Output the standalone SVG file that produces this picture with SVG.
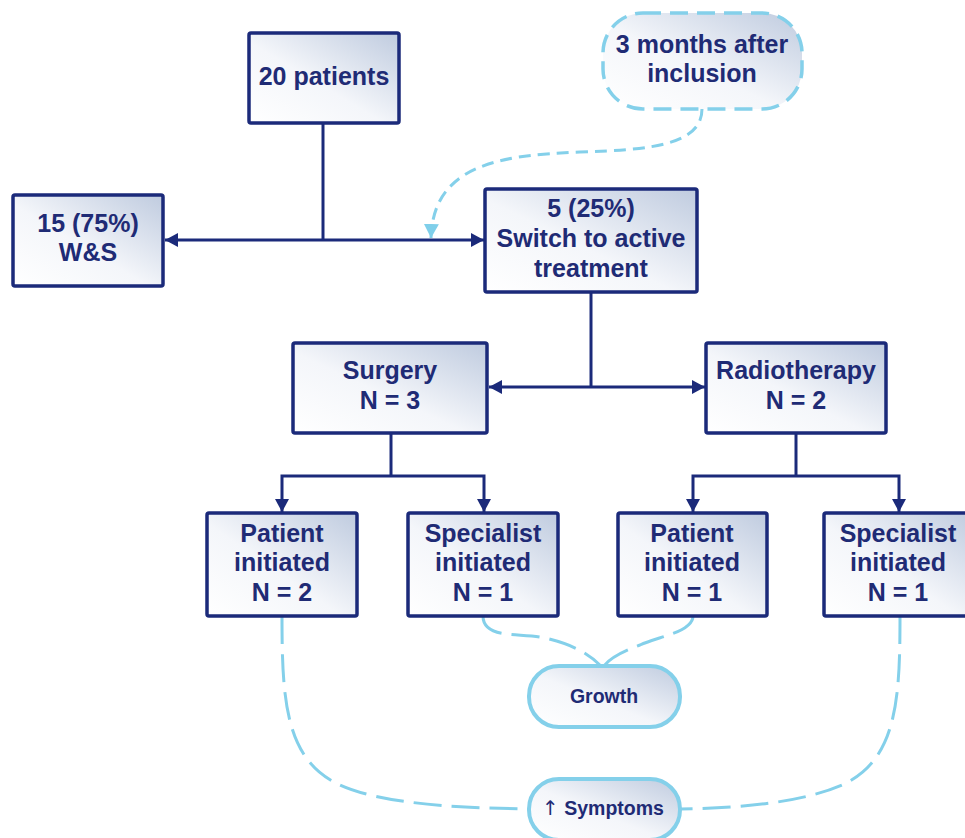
<svg xmlns="http://www.w3.org/2000/svg" width="965" height="838" viewBox="0 0 965 838">
<defs>
<linearGradient id="g" x1="0" y1="1" x2="1" y2="0">
<stop offset="0" stop-color="#ffffff"/>
<stop offset="0.45" stop-color="#f4f6fa"/>
<stop offset="1" stop-color="#bfcbdf"/>
</linearGradient>
<marker id="ah" markerUnits="userSpaceOnUse" markerWidth="14" markerHeight="14" refX="13" refY="7" orient="auto" viewBox="0 0 14 14">
<path d="M0,0 L13,7 L0,14 z" fill="#1b2a7a"/>
</marker>
<marker id="ahl" markerUnits="userSpaceOnUse" markerWidth="15" markerHeight="15" refX="14" refY="7.5" orient="auto" viewBox="0 0 15 15">
<path d="M0,0 L14,7.5 L0,15 z" fill="#7fcfea"/>
</marker>
</defs>
<style>
.box{fill:url(#g);stroke:#1b2a7a;stroke-width:3.5}
.pill{fill:url(#g);stroke:#84d0ea;stroke-width:4}
.cloud{fill:url(#g);stroke:#84d0ea;stroke-width:3.5;stroke-dasharray:18 9}
text{font-family:"Liberation Sans",Arial,sans-serif;font-weight:bold;fill:#1f2b75;text-anchor:middle}
.t{font-size:25px}
.s{font-size:19.5px}
.arr{font-family:"DejaVu Sans",sans-serif;font-weight:normal;font-size:20px}
.ln{fill:none;stroke:#1b2a7a;stroke-width:3}
.dl{fill:none;stroke:#84d0ea;stroke-width:3;stroke-dasharray:28 10}
.dc{fill:none;stroke:#84d0ea;stroke-width:3;stroke-dasharray:12 7}
</style>
<g id="connectors">
<path class="ln" d="M323,123 V240"/>
<path class="ln" d="M323,240 H165" marker-end="url(#ah)"/>
<path class="ln" d="M323,240 H484" marker-end="url(#ah)"/>
<path class="ln" d="M591,292 V387"/>
<path class="ln" d="M591,387 H489" marker-end="url(#ah)"/>
<path class="ln" d="M591,387 H705" marker-end="url(#ah)"/>
<path class="ln" d="M391,433 V476"/>
<path class="ln" d="M391,476 H282 V512" marker-end="url(#ah)"/>
<path class="ln" d="M391,476 H484 V512" marker-end="url(#ah)"/>
<path class="ln" d="M796,433 V476"/>
<path class="ln" d="M796,476 H693 V512" marker-end="url(#ah)"/>
<path class="ln" d="M796,476 H899 V512" marker-end="url(#ah)"/>
<path class="dc" d="M702,109 C702,145 650,150 580,152 C500,155 433,165 431,238" marker-end="url(#ahl)"/>
<path class="dl" d="M483,616 C483,640 520,632 545,638 C575,645 590,655 601,666"/>
<path class="dl" d="M693,616 C693,632 660,636 640,645 C620,652 608,660 604,666"/>
<path class="dl" d="M282,616 C282,700 285,760 340,785 C380,803 450,808 530,809"/>
<path class="dl" d="M900,616 C900,700 897,760 842,785 C800,803 740,808 680,809"/>
</g>
<g id="n20">
<rect class="box" x="249" y="33" width="150" height="90" rx="2"/>
<text class="t" x="324" y="85">20 patients</text>
</g>
<g id="nws">
<rect class="box" x="13" y="195" width="150" height="91" rx="2"/>
<text class="t" x="88" y="232">15 (75%)</text>
<text class="t" x="88" y="261">W&amp;S</text>
</g>
<g id="nswitch">
<rect class="box" x="485" y="189" width="212" height="103" rx="2"/>
<text class="t" x="591" y="217">5 (25%)</text>
<text class="t" x="591" y="247">Switch to active</text>
<text class="t" x="591" y="277">treatment</text>
</g>
<g id="nmonths">
<rect class="cloud" x="603" y="13" width="199" height="96" rx="40"/>
<text class="t" x="702" y="53">3 months after</text>
<text class="t" x="702" y="82">inclusion</text>
</g>
<g id="nsurgery">
<rect class="box" x="293" y="343" width="194" height="90" rx="2"/>
<text class="t" x="390" y="379">Surgery</text>
<text class="t" x="390" y="409">N = 3</text>
</g>
<g id="nradio">
<rect class="box" x="706" y="343" width="180" height="90" rx="2"/>
<text class="t" x="796" y="379">Radiotherapy</text>
<text class="t" x="796" y="409">N = 2</text>
</g>
<g id="np1">
<rect class="box" x="207" y="513" width="150" height="103" rx="2"/>
<text class="t" x="282" y="542">Patient</text>
<text class="t" x="282" y="571">initiated</text>
<text class="t" x="282" y="601">N = 2</text>
</g>
<g id="ns1">
<rect class="box" x="408" y="513" width="150" height="103" rx="2"/>
<text class="t" x="483" y="542">Specialist</text>
<text class="t" x="483" y="571">initiated</text>
<text class="t" x="483" y="601">N = 1</text>
</g>
<g id="np2">
<rect class="box" x="618" y="513" width="149" height="103" rx="2"/>
<text class="t" x="692" y="542">Patient</text>
<text class="t" x="692" y="571">initiated</text>
<text class="t" x="692" y="601">N = 1</text>
</g>
<g id="ns2">
<rect class="box" x="824" y="513" width="150" height="103" rx="2"/>
<text class="t" x="898" y="542">Specialist</text>
<text class="t" x="898" y="571">initiated</text>
<text class="t" x="898" y="601">N = 1</text>
</g>
<g id="ngrowth">
<rect class="pill" x="529" y="666" width="151" height="61" rx="30"/>
<text class="s" x="604" y="703">Growth</text>
</g>
<g id="nsymptoms">
<rect class="pill" x="529" y="779" width="151" height="61" rx="30"/>
<text class="s" x="603" y="815"><tspan class="arr">↑</tspan> Symptoms</text>
</g>
</svg>
